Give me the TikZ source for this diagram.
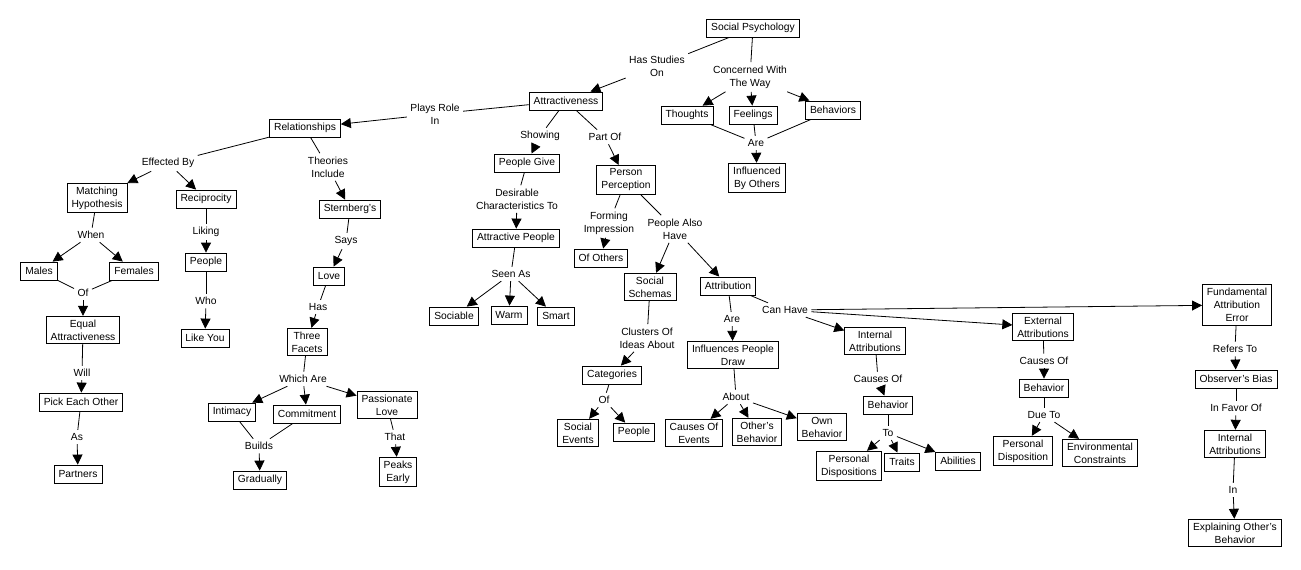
\documentclass[tikz,border=0pt]{standalone}
\usepackage{fontspec}
\setmainfont{Liberation Sans}
\usetikzlibrary{arrows.meta}
\begin{document}
\begin{tikzpicture}[x=1pt,y=-1pt,font=\fontsize{10.3}{13}\selectfont,
	cbox/.style={draw, line width=0.8pt, inner xsep=4.5pt, inner ysep=3.5pt, minimum height=18pt, align=center},
	lbl/.style={align=center, inner sep=2pt, outer sep=1.5pt},
	ln/.style={line width=0.8pt},
	arr/.style={line width=0.8pt, -{Triangle[length=10pt,width=10pt]}}]
				\useasboundingbox (0,0) rectangle (1301,570);
				\node[cbox] (sp) at (753,28) {Social Psychology};
				\node[lbl] (hso) at (657,66) {Has Studies\\On};
				\node[lbl] (cww) at (750,77) {Concerned With\\The Way};
				\node[cbox] (tho) at (687,115) {Thoughts};
				\node[cbox] (fee) at (753,115) {Feelings};
				\node[cbox] (beh) at (833,110) {Behaviors};
				\node[lbl] (are1) at (756,143) {Are};
				\node[cbox] (ibo) at (757,178) {Influenced\\By Others};
				\node[cbox] (attr) at (566,101) {Attractiveness};
				\node[lbl] (plays) at (435,114) {Plays Role\\In};
				\node[cbox] (rel) at (305,128) {Relationships};
				\node[lbl] (show) at (540,136) {Showing};
				\node[cbox] (pgive) at (527,163) {People Give};
				\node[lbl] (partof) at (605,137) {Part Of};
				\node[cbox] (pp) at (626,180) {Person\\Perception};
				\node[lbl] (desir) at (517,199) {Desirable\\Characteristics To};
				\node[cbox] (attp) at (516,238) {Attractive People};
				\node[lbl] (seen) at (511,274) {Seen As};
				\node[cbox] (soc) at (454,316) {Sociable};
				\node[cbox] (warm) at (509,315) {Warm};
				\node[cbox] (smart) at (556,316) {Smart};
				\node[lbl] (form) at (609,223) {Forming\\Impression};
				\node[cbox] (ofo) at (601,258) {Of Others};
				\node[lbl] (palso) at (675,229) {People Also\\Have};
				\node[cbox] (schem) at (650,287) {Social\\Schemas};
				\node[cbox] (attrib) at (728,286) {Attribution};
				\node[lbl] (canh) at (785,310) {Can Have};
				\node[lbl] (clus) at (647,338) {Clusters Of\\Ideas About};
				\node[cbox] (cat) at (612,375) {Categories};
				\node[lbl] (of2) at (604,400) {Of};
				\node[cbox] (sev) at (578,433) {Social\\Events};
				\node[cbox] (peo2) at (634,432) {People};
				\node[lbl] (are2) at (732,319) {Are};
				\node[cbox] (ipd) at (733,355) {Influences People\\Draw};
				\node[lbl] (about) at (736,397) {About};
				\node[cbox] (coe) at (694,433) {Causes Of\\Events};
				\node[cbox] (obeh) at (757,432) {Other's\\Behavior};
				\node[cbox] (own) at (822,427) {Own\\Behavior};
				\node[cbox] (inta) at (875,341) {Internal\\Attributions};
				\node[lbl] (cau1) at (878,379) {Causes Of};
				\node[cbox] (beh1) at (888,405) {Behavior};
				\node[lbl] (to) at (888,433) {To};
				\node[cbox] (pdis) at (849,466) {Personal\\Dispositions};
				\node[cbox] (trait) at (902,462) {Traits};
				\node[cbox] (abil) at (958,461) {Abilities};
				\node[cbox] (exta) at (1043,327) {External\\Attributions};
				\node[lbl] (cau2) at (1044,361) {Causes Of};
				\node[cbox] (beh2) at (1044,388) {Behavior};
				\node[lbl] (due) at (1044,415) {Due To};
				\node[cbox] (pdis2) at (1023,451) {Personal\\Disposition};
				\node[cbox] (env) at (1100,453) {Environmental\\Constraints};
				\node[cbox] (fae) at (1237,305) {Fundamental\\Attribution\\Error};
				\node[lbl] (ref) at (1235,349) {Refers To};
				\node[cbox] (obs) at (1236,379) {Observer's Bias};
				\node[lbl] (fav) at (1236,408) {In Favor Of};
				\node[cbox] (inta2) at (1235,444) {Internal\\Attributions};
				\node[lbl] (in) at (1233,490) {In};
				\node[cbox] (expl) at (1235,533) {Explaining Other's\\Behavior};
				\node[lbl] (eff) at (168,163) {Effected By};
				\node[cbox] (mh) at (97,198) {Matching\\Hypothesis};
				\node[cbox] (rec) at (206,199) {Reciprocity};
				\node[lbl] (theo) at (328,167) {Theories\\Include};
				\node[cbox] (stb) at (350,209) {Sternberg's};
				\node[lbl] (when) at (91,235) {When};
				\node[cbox] (mal) at (39,271) {Males};
				\node[cbox] (fem) at (134,271) {Females};
				\node[lbl] (of1) at (83,293) {Of};
				\node[cbox] (eq) at (83,330) {Equal\\Attractiveness};
				\node[lbl] (will) at (82,373) {Will};
				\node[cbox] (pick) at (81,402) {Pick Each Other};
				\node[lbl] (as) at (77,437) {As};
				\node[cbox] (part) at (78,474) {Partners};
				\node[lbl] (lik) at (206,232) {Liking};
				\node[cbox] (peo1) at (206,262) {People};
				\node[lbl] (who) at (206,301) {Who};
				\node[cbox] (lky) at (205,338) {Like You};
				\node[lbl] (says) at (346,241) {Says};
				\node[cbox] (love) at (329,276) {Love};
				\node[lbl] (has) at (318,307) {Has};
				\node[cbox] (three) at (307,342) {Three\\Facets};
				\node[lbl] (which) at (303,379) {Which Are};
				\node[cbox] (inti) at (232,412) {Intimacy};
				\node[cbox] (comm) at (307,414) {Commitment};
				\node[cbox] (pass) at (387,405) {Passionate\\Love};
				\node[lbl] (bld) at (259,446) {Builds};
				\node[cbox] (grad) at (260,480) {Gradually};
				\node[lbl] (that) at (395,437) {That};
				\node[cbox] (peak) at (398,472) {Peaks\\Early};
				
				\draw[ln]  (sp) -- (hso);
				\draw[arr] (hso) -- (attr);
				\draw[ln]  (sp) -- (cww);
				\draw[arr] (cww) -- (tho);
				\draw[arr] (cww) -- (fee);
				\draw[arr] (cww) -- (beh);
				\draw[ln]  (tho) -- (are1);
				\draw[ln]  (fee) -- (are1);
				\draw[ln]  (beh) -- (are1);
				\draw[arr] (are1) -- (ibo);
				\draw[ln]  (attr) -- (plays);
				\draw[arr] (plays) -- (rel);
				\draw[ln]  (attr) -- (show);
				\draw[arr] (show) -- (pgive);
				\draw[ln]  (attr) -- (partof);
				\draw[arr] (partof) -- (pp);
				\draw[ln]  (pgive) -- (desir);
				\draw[arr] (desir) -- (attp);
				\draw[ln]  (attp) -- (seen);
				\draw[arr] (seen) -- (soc);
				\draw[arr] (seen) -- (warm);
				\draw[arr] (seen) -- (smart);
				\draw[ln]  (pp) -- (form);
				\draw[arr] (form) -- (ofo);
				\draw[ln]  (pp) -- (palso);
				\draw[arr] (palso) -- (schem);
				\draw[arr] (palso) -- (attrib);
				\draw[ln]  (schem) -- (clus);
				\draw[arr] (clus) -- (cat);
				\draw[ln]  (cat) -- (of2);
				\draw[arr] (of2) -- (sev);
				\draw[arr] (of2) -- (peo2);
				\draw[ln]  (attrib) -- (are2);
				\draw[arr] (are2) -- (ipd);
				\draw[ln]  (ipd) -- (about);
				\draw[arr] (about) -- (coe);
				\draw[arr] (about) -- (obeh);
				\draw[arr] (about) -- (own);
				\draw[ln]  (attrib) -- (canh);
				\draw[arr] (canh) -- (inta);
				\draw[arr] (canh) -- (exta);
				\draw[arr] (canh) -- (fae);
				\draw[ln]  (inta) -- (cau1);
				\draw[arr] (cau1) -- (beh1);
				\draw[ln]  (beh1) -- (to);
				\draw[arr] (to) -- (pdis);
				\draw[arr] (to) -- (trait);
				\draw[arr] (to) -- (abil);
				\draw[ln]  (exta) -- (cau2);
				\draw[arr] (cau2) -- (beh2);
				\draw[ln]  (beh2) -- (due);
				\draw[arr] (due) -- (pdis2);
				\draw[arr] (due) -- (env);
				\draw[ln]  (fae) -- (ref);
				\draw[arr] (ref) -- (obs);
				\draw[ln]  (obs) -- (fav);
				\draw[arr] (fav) -- (inta2);
				\draw[ln]  (inta2) -- (in);
				\draw[arr] (in) -- (expl);
				\draw[ln]  (rel) -- (eff);
				\draw[arr] (eff) -- (mh);
				\draw[arr] (eff) -- (rec);
				\draw[ln]  (rel) -- (theo);
				\draw[arr] (theo) -- (stb);
				\draw[ln]  (mh) -- (when);
				\draw[arr] (when) -- (mal);
				\draw[arr] (when) -- (fem);
				\draw[ln]  (mal) -- (of1);
				\draw[ln]  (fem) -- (of1);
				\draw[arr] (of1) -- (eq);
				\draw[ln]  (eq) -- (will);
				\draw[arr] (will) -- (pick);
				\draw[ln]  (pick) -- (as);
				\draw[arr] (as) -- (part);
				\draw[ln]  (rec) -- (lik);
				\draw[arr] (lik) -- (peo1);
				\draw[ln]  (peo1) -- (who);
				\draw[arr] (who) -- (lky);
				\draw[ln]  (stb) -- (says);
				\draw[arr] (says) -- (love);
				\draw[ln]  (love) -- (has);
				\draw[arr] (has) -- (three);
				\draw[ln]  (three) -- (which);
				\draw[arr] (which) -- (inti);
				\draw[arr] (which) -- (comm);
				\draw[arr] (which) -- (pass);
				\draw[ln]  (inti) -- (bld);
				\draw[ln]  (comm) -- (bld);
				\draw[arr] (bld) -- (grad);
				\draw[ln]  (pass) -- (that);
				\draw[arr] (that) -- (peak);
			\end{tikzpicture}
\end{document}
